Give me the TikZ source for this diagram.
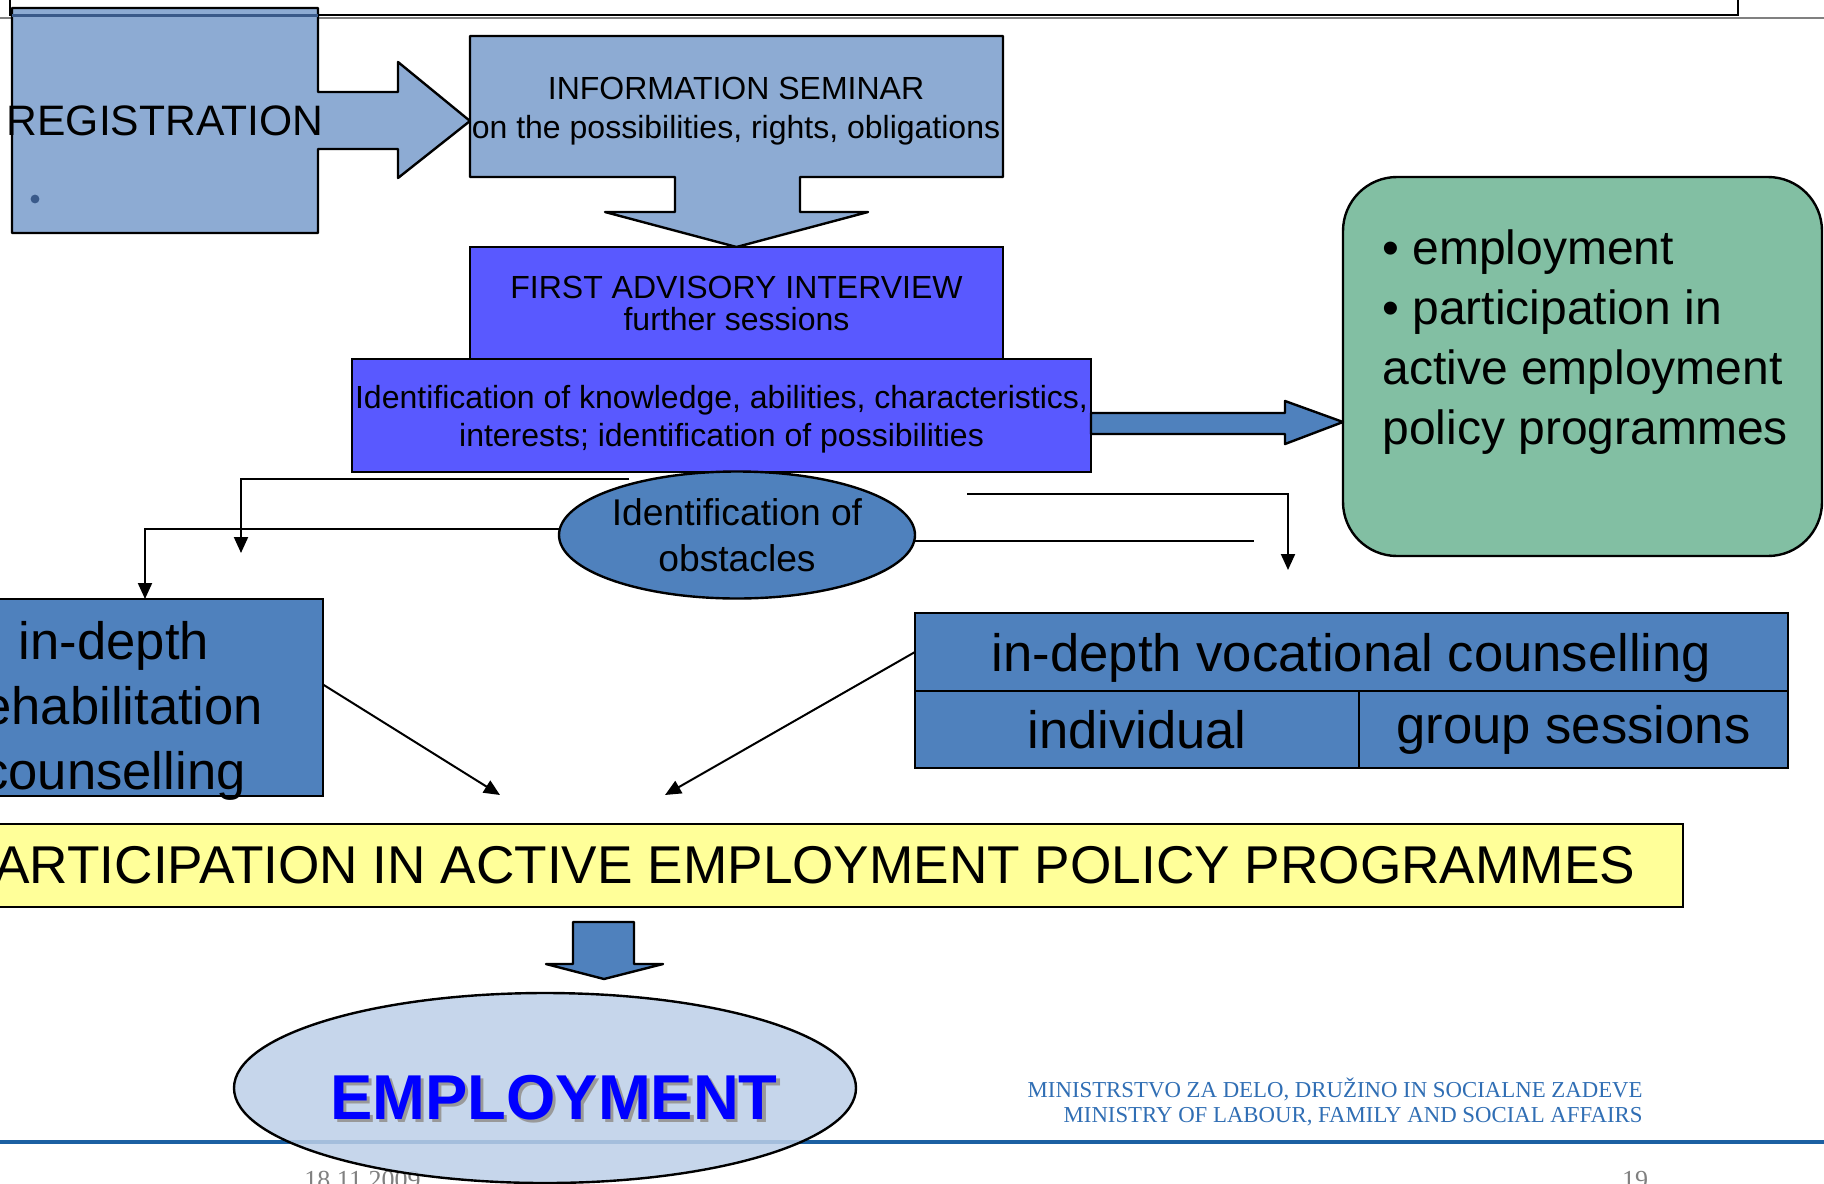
\documentclass[tikz,border=0pt]{standalone}
\usepackage{fontspec}
\setmainfont{Liberation Sans}
\newfontfamily\footserif{Liberation Serif}
\usetikzlibrary{positioning, calc, shapes.geometric, arrows.meta}

\definecolor{lightsteel}{RGB}{141,171,211}
\definecolor{violetblue}{RGB}{89,89,255}
\definecolor{midblue}{RGB}{79,129,189}
\definecolor{mintgreen}{RGB}{130,191,163}
\definecolor{paleyellow}{RGB}{255,255,153}
\definecolor{paleblue}{RGB}{188,207,231}
\definecolor{empblue}{RGB}{0,0,255}
\definecolor{dotblue}{RGB}{58,90,138}
\definecolor{ministryblue}{RGB}{48,110,180}
\definecolor{footerblue}{RGB}{28,96,162}

\newcommand{\fsz}[2]{\fontsize{#1}{#2}\selectfont}
\newcommand{\shadowed}[1]{\makebox[0pt][l]{\hspace{1.6pt}\raisebox{-1.6pt}{\textcolor{black!40}{#1}}}#1}

\begin{document}
\begin{tikzpicture}[x=0.5pt, y=-0.5pt,
    box/.style={draw, line width=1.2pt, inner sep=0pt, outer sep=0pt, align=center},
    conn/.style={line width=1pt, -{Triangle[length=8pt, width=7pt]}},
    stub/.style={line width=1pt},
    blockarrow/.style={draw, line width=1.2pt, line join=round, fill=midblue}]
    \useasboundingbox (0,0) rectangle (1824,1183);

    % slide frame
    \draw[line width=1.2pt] (10,0) |- (1738,15) -- (1738,0);
    \draw[gray, line width=1pt] (0,17.5) -- (1824,17.5);

    % registration and seminar callouts
    \draw[fill=lightsteel, line width=1.2pt, line join=round] (12,8) -- (318,8) -- (318,92) -- (398,92) -- (398,62) -- (470,121)
        -- (398,178) -- (398,149) -- (318,149) -- (318,233) -- (12,233) -- cycle;
    \draw[dotblue, line width=1.2pt] (12,15.5) -- (318,15.5);
    \node[inner sep=0pt, font=\fsz{21.3}{25}] (reg) at (165,121) {REGISTRATION};
    \fill[dotblue] (35,199) circle [radius=2.2pt];

    \draw[fill=lightsteel, line width=1.2pt, line join=round] (470,36) -- (1003,36) -- (1003,177) -- (800,177) -- (800,212) -- (868,212) -- (736.5,247)
        -- (605,212) -- (675,212) -- (675,177) -- (470,177) -- cycle;
    \node[inner sep=0pt, align=center, font=\fsz{16}{19.5}] (sem) at (736,111) {INFORMATION SEMINAR\\on the possibilities, rights, obligations};

    % interview and identification
    \node[box, fill=violetblue, minimum width=266.5pt, minimum height=56pt, font=\fsz{16}{16}] (adv) at (736.5,303) {FIRST ADVISORY INTERVIEW\\further sessions};
    \node[box, fill=violetblue, minimum width=369.5pt, minimum height=56.5pt, text depth=0pt, font=\fsz{16}{19}] (ident) at (721.5,415.5) {Identification of knowledge, abilities, characteristics,\\interests; identification of possibilities};
    \node[box, ellipse, fill=midblue, minimum width=178pt, minimum height=63.5pt, font=\fsz{18.6}{23}] (obs) at (737,535) {Identification of\\obstacles};

    % outcomes box
    \node[box, fill=mintgreen, rounded corners=27pt, minimum width=239.5pt, minimum height=189.5pt] (green) at (1582.5,366.5) {};
    \node[inner sep=0pt, anchor=west, align=left, font=\fsz{24}{30}] (goals) at (1382,342.5) {• employment\\• participation in\\active employment\\policy programmes};
    \draw[blockarrow] (ident.east |- 0,413) -- (1285,413) -- (1285,401) -- (green.west |- 0,422) -- (1285,444) -- (1285,434) -- (ident.east |- 0,434) -- cycle;

    % counselling
    \node[box, fill=midblue, minimum width=209pt, minimum height=98.5pt, text height=91.5pt, text depth=0pt, font=\fsz{26.3}{32.5}] (rehab) at (114,697.5) {in-depth\\rehabilitation\\counselling};
    \node[box, fill=midblue, minimum width=436.5pt, minimum height=39pt, text depth=0pt, font=\fsz{26.3}{30}] (voc) at (1351.5,652) {in-depth vocational counselling};
    \node[box, fill=midblue, minimum width=222pt, minimum height=38.5pt, font=\fsz{26.3}{30}, anchor=north west] (indiv) at (voc.south west) {individual};
    \node[box, fill=midblue, minimum width=214.5pt, minimum height=38.5pt, font=\fsz{26.3}{30}, anchor=north west] (group) at (indiv.north east) {group sessions};

    % connectors
    \coordinate (splitL) at (629,479);
    \coordinate (dropL) at (241,553);
    \coordinate (splitR) at (967,494);
    \coordinate (dropR) at (1288,570);
    \coordinate (stubR) at (1254,542);
    \coordinate (intoL) at (500,795);
    \coordinate (intoR) at (665,795);
    \draw[conn] (splitL) -| (dropL);
    \draw[conn] (obs.178) -| ([xshift=15.5pt]rehab.north);
    \draw[conn] (splitR) -| (dropR);
    \draw[stub] (obs.-2) -- (stubR |- obs.-2);
    \draw[conn] ([yshift=6.5pt]rehab.east) -- (intoL);
    \draw[conn] (voc.west) -- (intoR);

    % programmes and employment
    \node[box, fill=paleyellow, minimum width=884pt, minimum height=41.5pt, font=\fsz{26.6}{30}] (part) at (799,865.5) {PARTICIPATION IN ACTIVE EMPLOYMENT POLICY PROGRAMMES};
    \draw[blockarrow] (573,922) -- (634,922) -- (634,964) -- (663,964) -- (604,979) -- (546,964) -- (573,964) -- cycle;

    % footer
    \draw[footerblue, line width=2pt] (0,1142) -- (1824,1142);
    \node[anchor=east, align=right, inner sep=0pt, text=ministryblue, font=\footserif\fsz{11.4}{12.5}] (ministry) at (1643,1101.5) {MINISTRSTVO ZA DELO, DRUŽINO IN SOCIALNE ZADEVE\\MINISTRY OF LABOUR, FAMILY AND SOCIAL AFFAIRS};
    \node[text=gray, font=\footserif\fsz{13}{15}] (date) at (362.5,1180) {18.11.2009};
    \node[text=gray, font=\footserif\fsz{13}{15}] (page) at (1635,1180) {19};

    \node[box, ellipse, inner xsep=-6.5pt, text height=31pt, text depth=0pt, fill=paleblue, fill opacity=0.85, text opacity=1, minimum width=311pt, minimum height=95pt, text=empblue, font=\bfseries\fsz{31.7}{36}] (empl) at (545,1088) {\hspace*{9pt}\shadowed{EMPLOYMENT}};
\end{tikzpicture}
\end{document}
